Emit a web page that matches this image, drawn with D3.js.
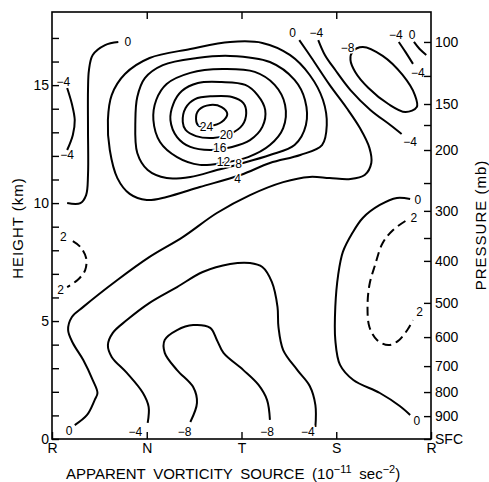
<!DOCTYPE html>
<html>
<head>
<meta charset="utf-8">
<script src="https://cdn.jsdelivr.net/npm/d3@7"></script>
<style>
  body { margin: 0; background: #fff; }
  svg { display: block; }
  text { font-family: "Liberation Sans", Arial, sans-serif; fill: #000; }
</style>
</head>
<body>
<svg id="chart" width="489" height="482"></svg>
<script>
// x: sectors R..R (0..4), y: height in km
const sectors = ['R', 'N', 'T', 'S', 'R'];
const heightTicks = d3.range(0, 18);
const heightLabels = [0, 5, 10, 15];
const pressureLabels = ['100', '150', '200', '300', '400', '500', '600', '700', '800', '900', 'SFC'];
const pressureKm = [16.83, 14.2, 12.25, 9.67, 7.55, 5.77, 4.32, 3.09, 1.99, 0.97, 0];
const pressureMinorKm = [15.39, 13.31, 10.85, 8.52];

// contour point lists [sector, km]
const c24 = [[1.52,13.57],[1.55,13.95],[1.67,14.16],[1.79,14.07],[1.85,13.78],[1.79,13.44],[1.67,13.27],[1.55,13.27]];
const c20 = [[1.38,13.44],[1.41,14.03],[1.51,14.41],[1.69,14.53],[1.90,14.50],[2.02,14.24],[2.05,13.82],[2.01,13.31],[1.88,12.93],[1.70,12.76],[1.52,12.84],[1.41,13.10]];
const c16 = [[1.25,13.52],[1.28,14.20],[1.37,14.75],[1.54,15.09],[1.79,15.13],[2.04,15.01],[2.17,14.58],[2.25,13.95],[2.22,13.23],[2.09,12.67],[1.90,12.38],[1.67,12.25],[1.46,12.38],[1.32,12.80]];
const c12 = [[1.80,15.68],[2.14,15.56],[2.35,15.01],[2.46,14.16],[2.44,13.18],[2.30,12.46],[2.07,11.95],[1.80,11.70],[1.56,11.62],[1.32,11.95],[1.14,12.59],[1.07,13.52],[1.10,14.37],[1.21,15.05],[1.46,15.52]];
const c8 = [[1.88,16.24],[2.30,15.98],[2.56,15.22],[2.67,14.37],[2.68,13.31],[2.56,12.46],[2.30,12.04],[1.98,11.66],[1.74,11.40],[1.46,11.11],[1.21,11.06],[1.01,11.40],[0.90,12.12],[0.88,13.52],[0.90,14.50],[0.98,15.30],[1.17,15.85],[1.53,16.15]];
const c4 = [[0.61,12.25],[0.59,13.52],[0.63,14.58],[0.77,15.47],[1.03,16.15],[1.46,16.53],[1.88,16.83],[2.22,16.79],[2.51,16.28],[2.72,15.43],[2.86,14.37],[2.90,13.31],[2.85,12.46],[2.62,12.04],[2.30,11.70],[1.99,11.19],[1.56,10.68],[1.21,10.26],[1.00,10.13],[0.82,10.39],[0.69,11.06]];
const cNeg8Top = [[3.17,16.41],[3.28,16.62],[3.49,16.24],[3.70,15.43],[3.83,14.58],[3.85,14.07],[3.73,13.86],[3.55,14.20],[3.34,14.88],[3.20,15.56],[3.15,16.07]];
const cNeg4Top = [[2.81,16.91],[2.88,16.28],[2.99,15.64],[3.15,14.79],[3.36,13.95],[3.57,13.31],[3.69,12.93]];
const cZeroMain = [[2.61,16.91],[2.74,16.15],[2.93,15.01],[3.11,14.03],[3.25,13.18],[3.35,12.34],[3.37,11.70],[3.30,11.19],[3.15,11.02],[2.93,11.06],[2.72,11.11],[2.44,10.89],[2.09,10.34],[1.74,9.58],[1.38,8.56],[1.03,7.72],[0.69,6.74],[0.33,5.60],[0.21,5.17],[0.17,4.62],[0.22,4.07],[0.33,3.35],[0.43,2.50],[0.48,1.95],[0.45,1.65],[0.37,1.02],[0.24,0.59]];
const cNeg4Corner = [[3.66,16.83],[3.73,16.41],[3.81,15.90]];
const cZeroCorner = [[3.82,16.83],[3.88,16.53],[3.95,16.28]];
const cNeg4Left = [[0.16,14.88],[0.21,14.20],[0.24,13.52],[0.22,12.89],[0.16,12.25]];
const cZeroLeft = [[0.70,16.83],[0.56,16.70],[0.43,16.28],[0.39,15.64],[0.38,14.79],[0.38,13.10],[0.38,11.19],[0.36,10.34],[0.30,10.00],[0.16,10.00]];
const cTwoLeft = [[0.22,8.39],[0.30,8.14],[0.36,7.67],[0.35,7.16],[0.27,6.74],[0.16,6.44]];
const cTwoRight = [[3.73,9.24],[3.60,8.86],[3.49,8.31],[3.41,7.38],[3.35,6.53],[3.33,5.60],[3.35,4.75],[3.43,4.20],[3.55,3.98],[3.65,4.15],[3.75,4.62],[3.81,5.04]];
const cZeroRight = [[3.78,10.17],[3.64,10.22],[3.46,9.92],[3.28,9.37],[3.17,8.73],[3.07,7.93],[3.02,6.95],[2.99,5.60],[2.99,4.20],[3.04,3.14],[3.18,2.50],[3.46,1.95],[3.67,1.40],[3.78,1.02]];
const cNeg4Low = [[1.01,0.68],[1.02,1.36],[0.96,1.95],[0.79,2.80],[0.63,3.48],[0.59,3.98],[0.64,4.49],[0.79,5.04],[1.03,5.77],[1.32,6.44],[1.59,7.08],[1.88,7.42],[2.09,7.46],[2.22,7.29],[2.32,6.66],[2.38,5.60],[2.39,4.75],[2.44,3.77],[2.59,2.92],[2.72,2.25],[2.78,1.44],[2.78,0.51]];
const cNeg8Low = [[1.46,0.72],[1.53,1.53],[1.49,2.20],[1.32,2.92],[1.19,3.65],[1.19,4.20],[1.32,4.62],[1.49,4.83],[1.67,4.71],[1.74,4.20],[1.81,3.65],[2.02,2.92],[2.18,2.29],[2.27,1.65],[2.30,0.81]];

const contours = [
  { level: 24, pts: c24, closed: true, labels: [[1.63, 13.23]] },
  { level: 20, pts: c20, closed: true, labels: [[1.84, 12.89]] },
  { level: 16, pts: c16, closed: true, labels: [[1.77, 12.34]] },
  { level: 12, pts: c12, closed: true, labels: [[1.81, 11.76]] },
  { level: 8, pts: c8, closed: true, labels: [[1.97, 11.66]] },
  { level: 4, pts: c4, closed: true, labels: [[1.96, 11.04]] },
  { level: -8, pts: cNeg8Top, closed: true, labels: [[3.12, 16.6]] },
  { level: -4, pts: cNeg4Top, labels: [[2.79, 17.21], [3.78, 12.59]] },
  { level: 0, pts: cZeroMain, labels: [[2.54, 17.21], [0.18, 0.34]] },
  { level: -4, pts: cNeg4Corner, labels: [[3.63, 17.13], [3.86, 15.52]] },
  { level: 0, pts: cZeroCorner, labels: [[3.80, 17.13]] },
  { level: -4, pts: cNeg4Left, labels: [[0.12, 15.13], [0.16, 12.04]] },
  { level: 0, pts: cZeroLeft, labels: [[0.80, 16.83]] },
  { level: 2, pts: cTwoLeft, dashed: true, labels: [[0.12, 8.56], [0.09, 6.32]] },
  { level: 2, pts: cTwoRight, dashed: true, labels: [[3.82, 9.37], [3.88, 5.38]] },
  { level: 0, pts: cZeroRight, labels: [[3.86, 10.13], [3.85, 0.76]] },
  { level: -4, pts: cNeg4Low, labels: [[0.88, 0.30], [2.70, 0.30]] },
  { level: -8, pts: cNeg8Low, labels: [[1.40, 0.30], [2.27, 0.30]] }
];

const svg = d3.select('#chart');
const margin = { top: 12, right: 58, bottom: 43, left: 52 };
const width = 489, height = 482;

const x = d3.scaleLinear().domain([0, 4]).range([margin.left, width - margin.right]);
const y = d3.scaleLinear().domain([0, 18.1]).range([height - margin.bottom, margin.top]);

const lineOpen = d3.line().x(d => x(d[0])).y(d => y(d[1])).curve(d3.curveCatmullRom.alpha(0.5));
const lineClosed = d3.line().x(d => x(d[0])).y(d => y(d[1])).curve(d3.curveCatmullRomClosed.alpha(0.5));

const fmt = v => (v < 0 ? '\u2212' + Math.abs(v) : String(v));

svg.append('g')
  .attr('class', 'contours')
  .selectAll('path')
  .data(contours)
  .join('path')
  .attr('d', d => (d.closed ? lineClosed : lineOpen)(d.pts))
  .attr('fill', 'none')
  .attr('stroke', '#000')
  .attr('stroke-width', 2)
  .attr('stroke-dasharray', d => (d.dashed ? '9,5' : null));

const labelData = contours.flatMap(c => c.labels.map(p => ({ level: c.level, p })));
svg.append('g')
  .attr('class', 'contour-labels')
  .selectAll('text')
  .data(labelData)
  .join('text')
  .attr('x', d => x(d.p[0]))
  .attr('y', d => y(d.p[1]))
  .attr('dy', '0.36em')
  .attr('text-anchor', 'middle')
  .attr('font-size', 12)
  .attr('stroke', '#fff')
  .attr('stroke-width', 3)
  .attr('paint-order', 'stroke')
  .text(d => fmt(d.level));

// frame
svg.append('rect')
  .attr('x', x(0)).attr('y', y(18.1))
  .attr('width', x(4) - x(0)).attr('height', y(0) - y(18.1))
  .attr('fill', 'none').attr('stroke', '#000').attr('stroke-width', 1.6);

const styleAxis = g => {
  g.select('.domain').remove();
  g.selectAll('line').attr('stroke', '#000').attr('stroke-width', 1.4);
  g.selectAll('text').attr('font-size', 14).attr('fill', '#000');
};

svg.append('g')
  .attr('transform', `translate(${x(0)},0)`)
  .call(d3.axisLeft(y).tickValues(heightTicks).tickSize(-7).tickPadding(3)
    .tickFormat(d => (heightLabels.includes(d) ? d : '')))
  .call(styleAxis)
  .attr('font-family', null);

svg.append('g')
  .attr('transform', `translate(${x(4)},0)`)
  .call(d3.axisRight(y).tickValues(pressureKm).tickSize(-7).tickPadding(4)
    .tickFormat((d, i) => pressureLabels[i]))
  .call(styleAxis)
  .attr('font-family', null);

svg.append('g')
  .attr('transform', `translate(${x(4)},0)`)
  .call(d3.axisRight(y).tickValues(pressureMinorKm).tickSize(-7).tickFormat(''))
  .call(styleAxis);

svg.append('g')
  .attr('transform', `translate(0,${y(0)})`)
  .call(d3.axisBottom(x).tickValues([0, 1, 2, 3, 4]).tickSize(-7).tickPadding(4)
    .tickFormat(i => sectors[i]))
  .call(styleAxis)
  .attr('font-family', null);

svg.append('g')
  .attr('transform', `translate(0,${y(18.1)})`)
  .call(d3.axisTop(x).tickValues([1, 2, 3]).tickSize(-7).tickFormat(''))
  .call(styleAxis);

// axis titles
svg.append('text')
  .attr('transform', 'translate(23,228) rotate(-90)')
  .attr('text-anchor', 'middle')
  .attr('font-size', 15)
  .attr('letter-spacing', 1)
  .text('HEIGHT (km)');

svg.append('text')
  .attr('transform', 'translate(486,225) rotate(-90)')
  .attr('text-anchor', 'middle')
  .attr('font-size', 15)
  .attr('letter-spacing', 1)
  .text('PRESSURE (mb)');

const xTitle = svg.append('text')
  .attr('x', 66).attr('y', 479)
  .attr('font-size', 15)
  .attr('word-spacing', 3.5);
xTitle.append('tspan').text('APPARENT VORTICITY SOURCE (10');
xTitle.append('tspan').attr('dy', -6).attr('font-size', 11).text('\u221211');
xTitle.append('tspan').attr('dy', 6).text(' sec');
xTitle.append('tspan').attr('dy', -6).attr('font-size', 11).text('\u22122');
xTitle.append('tspan').attr('dy', 6).text(')');
</script>
</body>
</html>
